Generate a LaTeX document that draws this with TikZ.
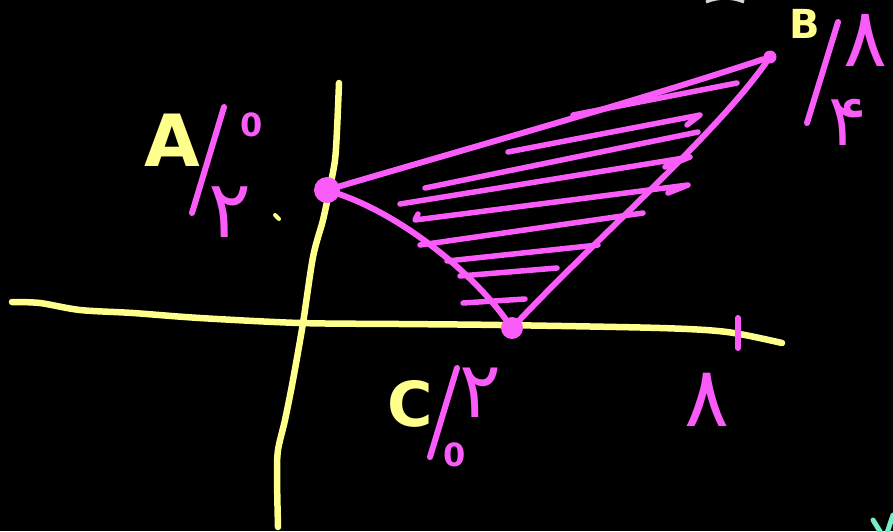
\documentclass[tikz,border=0pt]{standalone}
\usepackage{fontspec}
\setmainfont{DejaVu Sans}
\newfontfamily\fa[Script=Arabic]{DejaVu Sans}
\definecolor{ylw}{RGB}{255,255,140}
\definecolor{mgt}{RGB}{250,92,250}
\definecolor{mint}{RGB}{120,235,200}
\begin{document}
\begin{tikzpicture}[x=1pt,y=-1pt,
 yl/.style={draw=ylw,line width=6.5pt,line cap=round,line join=round},
 mg/.style={draw=mgt,line width=6pt,line cap=round,line join=round},
 hatch/.style={draw=mgt,line width=5.5pt,line cap=round,line join=round},
 dot/.style={circle,fill=mgt,inner sep=0pt},
 ylab/.style={text=ylw,inner sep=0pt},
 mlab/.style={text=mgt,inner sep=0pt}]
\fill[black] (0,0) rectangle (893,531);
\useasboundingbox (0,0) rectangle (893,531);
% axes
\draw[yl] plot[smooth] coordinates {(12,302) (40,303) (80,310) (133,313) (200,318) (300,323) (400,324) (500,325) (660,328) (727,332) (782,343)};
\draw[yl] plot[smooth] coordinates {(339,83) (337,130) (335,160) (330,187) (323,220) (313,257) (303,323) (293,380) (285,420) (278,450) (277,477) (278,527)};
% tick
\draw[mg] (738,318) -- (738,348);
% hatching
\draw[hatch] (573,115) -- (737,83);
\draw[hatch] (508,152) -- (700,115) -- (687,125);
\draw[hatch] (425,188) -- (698,132);
\draw[hatch] (400,204) -- (690,157) -- (665,167);
\draw[hatch] (418,214) -- (415,220) -- (688,185) -- (668,193);
\draw[hatch] (420,245) -- (643,213);
\draw[hatch] (447,261) -- (598,245);
\draw[hatch] (460,276) -- (557,268);
\draw[hatch] (463,303) -- (525,299);
% vertices
\node[dot,minimum size=26pt] (A) at (327,190) {};
\node[dot,minimum size=13pt] (B) at (770,57) {};
\node[dot,minimum size=22pt] (C) at (512,328) {};
\draw[mg] (A) .. controls (480,145) and (640,100) .. (B);
\draw[mg] (A) .. controls (400,215) and (470,270) .. (C);
\draw[mg] (B) .. controls (715,135) and (600,235) .. (C);
% label A
\node[ylab,font=\bfseries\fontsize{72}{72}\selectfont] (la) at (172,140) {A};
\draw[mg] (224,107) -- (192,213);
\node[mlab,font=\fa\bfseries\fontsize{32}{32}\selectfont] (ax) at (252,125) {0};
\node[mlab,font=\fa\fontsize{80}{80}\selectfont] (ay) at (230,212) {۲};
\draw[ylw,line width=4pt,line cap=round] (275,215) -- (279,219);
% label B
\node[ylab,font=\bfseries\fontsize{40}{40}\selectfont] (lb) at (805,24) {B};
\draw[mg] (838,22) -- (807,123);
\node[mlab,font=\fa\fontsize{82}{82}\selectfont] (bx) at (866,40) {۸};
\node[mlab,font=\fa\fontsize{72}{72}\selectfont] (by) at (848,122) {۴};
% label C
\node[ylab,font=\bfseries\fontsize{62}{62}\selectfont] (lc) at (410,404) {C};
\draw[mg] (457,368) -- (430,457);
\node[mlab,font=\fa\fontsize{78}{78}\selectfont] (cx) at (480,393) {۲};
\node[mlab,font=\fa\bfseries\fontsize{32}{32}\selectfont] (cy) at (455,455) {0};
% tick label
\node[mlab,font=\fa\fontsize{84}{84}\selectfont] (t8) at (707,400) {۸};
% fragments at the edges
\draw[white!85!black,line width=3pt] (706,2) .. controls (718,-3) and (732,-3) .. (744,2);
\draw[mint,line width=5pt,line cap=round] (873,520) -- (881,533);
\draw[mint,line width=5pt,line cap=round] (893,515) -- (887,533);
\end{tikzpicture}
\end{document}
